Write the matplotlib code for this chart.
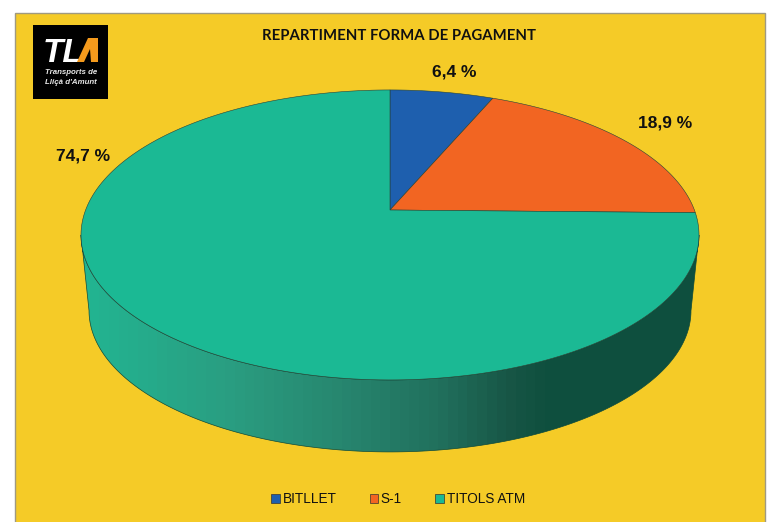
import numpy as np
import matplotlib
matplotlib.use("Agg")
import matplotlib.pyplot as plt
from matplotlib.colors import LinearSegmentedColormap
from matplotlib.patches import Polygon, Rectangle, Patch

labels = ["BITLLET", "S-1", "TITOLS ATM"]
values = [6.4, 18.9, 74.7]
value_texts = ["6,4 %", "18,9 %", "74,7 %"]
colors = ["#1e5fae", "#f26522", "#1bb994"]
label_pos = [(454, 72), (665, 123), (83, 156)]

title = "REPARTIMENT FORMA DE PAGAMENT"
bg = "#f5cb27"

# perspective pie: a unit circle seen at an angle, in pixel coords
k = 0.172
rx = 304.4
ry = 140.7


def project(x, y, cy, scale=1.0):
    return 390 + scale * rx * x / (1 + k * y), cy - scale * ry * y / (1 + k * y)


fig = plt.figure(figsize=(7.77, 5.22), dpi=100, facecolor="white")
ax = fig.add_axes([0, 0, 1, 1])

ax.add_patch(Rectangle((14.5, 12.5), 750.5, 520, fc=bg, ec="#a09a80", lw=1))

# side of the cylinder with the horizontal gradient
t_left = np.arctan2(-k, -np.sqrt(1 - k * k))
t_right = np.arctan2(-k, np.sqrt(1 - k * k))
t = np.linspace(t_left, t_right, 200)
x_top, y_top = project(np.cos(t), np.sin(t), 210)
x_bot, y_bot = project(np.cos(t), np.sin(t), 286.4, 0.974)
side_pts = np.column_stack([np.r_[x_top, x_bot[::-1]], np.r_[y_top, y_bot[::-1]]])
side = Polygon(side_pts, closed=True, fc="none", ec="#0d4a3a", lw=0.5, zorder=3)
ax.add_patch(side)
cmap = LinearSegmentedColormap.from_list("side", [
    (0.0, "#22b592"), (0.25, "#2a9c80"), (0.42, "#27866f"),
    (0.58, "#21705d"), (0.70, "#175545"), (0.76, "#0e4f3e"), (1.0, "#0e4f3e")])
im = ax.imshow(np.linspace(0, 1, 64)[None, :], cmap=cmap, extent=(80, 700, 460, 230),
               aspect="auto", zorder=2)
im.set_clip_path(side)

# top face, wedges clockwise from 12 o'clock
start = 0.0
for val, col in zip(values, colors):
    a = np.radians(np.linspace(start, start + val * 3.6, 200))
    x, y = project(np.sin(a), np.cos(a), 210)
    pts = np.column_stack([np.r_[390, x], np.r_[210, y]])
    ax.add_patch(Polygon(pts, closed=True, fc=col, ec="#24423a", lw=0.4, zorder=4))
    start += val * 3.6

for txt, (px, py) in zip(value_texts, label_pos):
    ax.text(px, py, txt, family="Liberation Sans", weight="bold", fontsize=12.5,
            ha="center", va="center", color="#111111", zorder=5)

ax.text(399, 36, title, family="Lato", weight="bold", fontsize=10.75,
        ha="center", va="center", color="#111111", zorder=5)

# logo
ax.add_patch(Rectangle((33, 25), 75, 74, fc="black", ec="none", zorder=5))
ax.text(43, 62, "TL", family="Liberation Sans", weight="bold", style="italic",
        fontsize=24, color="white", ha="left", va="baseline", zorder=6)
ax.add_patch(Polygon([(77, 62), (88, 38), (98, 38), (98, 62), (91, 62), (90, 49), (84, 62)],
                     closed=True, fc="#f49a1c", ec="none", zorder=6))
ax.text(71, 73, "Transports de", family="Liberation Sans", weight="bold", style="italic",
        fontsize=5.7, color="#e8e8e8", ha="center", va="center", zorder=6)
ax.text(71, 83, "Lliçà d'Amunt", family="Liberation Sans", weight="bold", style="italic",
        fontsize=5.7, color="#e8e8e8", ha="center", va="center", zorder=6)

ax.set_xlim(0, 777)
ax.set_ylim(522, 0)
ax.axis("off")

handles = [Patch(fc=c, ec="#333333", lw=0.5) for c in colors]
leg = ax.legend(handles, labels, ncol=3, loc="center", bbox_to_anchor=(398 / 777, 1 - 499 / 522),
                frameon=False, handlelength=0.62, handleheight=0.62, handletextpad=0.2,
                columnspacing=2.45, borderpad=0,
                prop={"family": "Liberation Sans", "size": 9.8})
for t_ in leg.get_texts():
    t_.set_color("#111111")

fig.savefig("out.png", dpi=100, facecolor="white")
